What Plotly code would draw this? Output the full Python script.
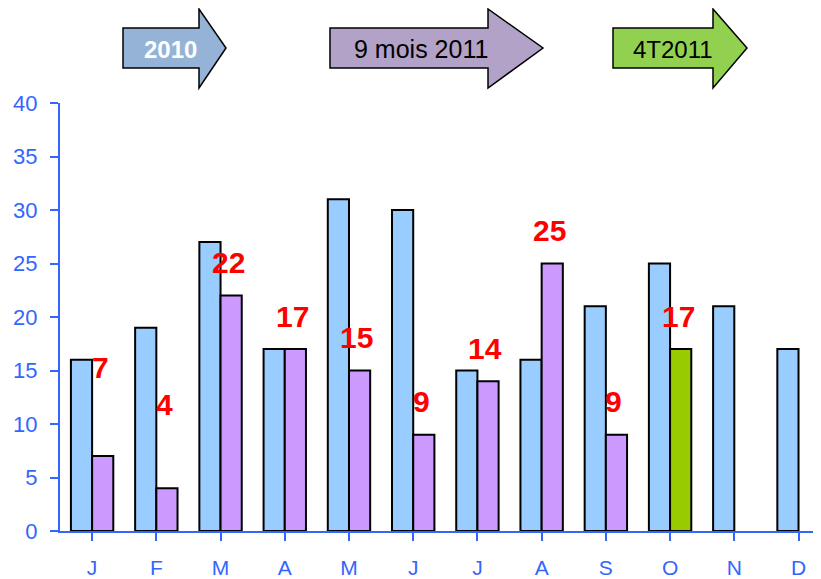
import plotly.graph_objects as go

months = ["J", "F", "M", "A", "M", "J", "J", "A", "S", "O", "N", "D"]
series_2010 = [16, 19, 27, 17, 31, 30, 15, 16, 21, 25, 21, 17]
series_2011 = [7, 4, 22, 17, 15, 9, 14, 25, 9, 17, None, None]
label_shift = [89, 84, 33, 33, 33, 33, 33, 33, 33, 33, 0, 0]

BLUE = "#99CCFF"
PURPLE = "#CC99FF"
GREEN = "#99CC00"
AXIS = "#3366FF"
FONT = "Arial, Liberation Sans, sans-serif"

x_idx = list(range(len(months)))
colors_2011 = [GREEN if i == 9 else PURPLE for i in x_idx]

fig = go.Figure()
fig.add_trace(go.Bar(x=x_idx, y=series_2010, marker=dict(color=BLUE, line=dict(color="black", width=2)), name="2010"))
fig.add_trace(go.Bar(x=x_idx, y=series_2011, marker=dict(color=colors_2011, line=dict(color="black", width=2)), name="2011"))

for i, v in enumerate(series_2011):
    if v is None:
        continue
    fig.add_annotation(x=i, y=v, xref="x", yref="y", text=f"<b>{v}</b>", showarrow=False,
                       xshift=8, yshift=label_shift[i], xanchor="center", yanchor="middle",
                       font=dict(color="#FF0000", size=30, family=FONT))

# page has an 8px body margin: figure origin sits at (8, 8) of the page
OFF = 8
W, H = 821 - OFF, 579 - OFF
# plot area in page pixels
L, R, T, B = 60, 821, 103, 531
def px(xp):
    return (xp - L) / (R - L)
def py(yp):
    return (B - yp) / (B - T)

arrows = [
    (123, 199, 226, "#95B3D7", "<b>2010</b>", "white", 24, 170),
    (330, 488, 543, "#B3A2C7", "9 mois 2011", "black", 25, 421),
    (613, 713, 747, "#92D050", "4T2011", "black", 24, 673),
]
for x0, x1, tip, fill, txt, tcol, fs, tx in arrows:
    bt, bb, ht, hb, mid = 28, 68, 9, 88, 48
    path = (f"M {px(x0)} {py(bt)} L {px(x1)} {py(bt)} L {px(x1)} {py(ht)} L {px(tip)} {py(mid)} "
            f"L {px(x1)} {py(hb)} L {px(x1)} {py(bb)} L {px(x0)} {py(bb)} Z")
    fig.add_shape(type="path", path=path, xref="paper", yref="paper",
                  fillcolor=fill, line=dict(color="black", width=1.5), layer="above")
    fig.add_annotation(x=px(tx), y=py(mid + 1), xref="paper", yref="paper", text=txt,
                       showarrow=False, xanchor="center", yanchor="middle",
                       font=dict(color=tcol, size=fs, family=FONT))

fig.update_layout(
    width=W, height=H,
    margin=dict(l=L - OFF, r=821 - R, t=T - OFF, b=579 - B, autoexpand=False),
    plot_bgcolor="white", paper_bgcolor="white",
    barmode="group", bargap=0.34, bargroupgap=0,
    showlegend=False,
    font=dict(family=FONT),
)
fig.update_xaxes(
    range=[-0.5, 11.35], tickmode="array", tickvals=x_idx, ticktext=months,
    tickson="boundaries", ticks="outside", ticklen=8, tickwidth=2, tickcolor=AXIS,
    showline=True, linecolor=AXIS, linewidth=2, showgrid=False, zeroline=False,
    tickfont=dict(color=AXIS, size=21, family=FONT), ticklabelstandoff=9,
    automargin=False,
)
fig.update_yaxes(
    range=[0, 40], dtick=5, ticks="outside", ticklen=8, tickwidth=2, tickcolor=AXIS,
    showline=True, linecolor=AXIS, linewidth=2, showgrid=False, zeroline=False,
    tickfont=dict(color=AXIS, size=22, family=FONT), ticklabelstandoff=8,
    automargin=False,
)

fig.write_html("out.html")
